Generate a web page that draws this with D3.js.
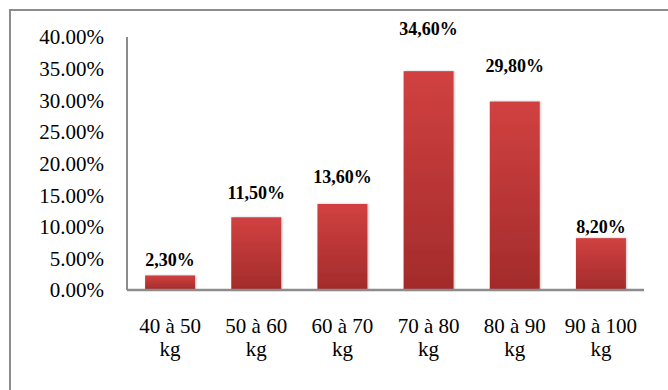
<!DOCTYPE html>
<html>
<head>
<meta charset="utf-8">
<script src="https://cdn.jsdelivr.net/npm/d3@7"></script>
<style>
  html, body { margin: 0; padding: 0; background: #fff; }
  svg { display: block; }
</style>
</head>
<body>
<svg id="chart" width="668" height="390"></svg>
<script>
// Weight classes and their share of the sample
const categories = ["40 à 50 kg", "50 à 60 kg", "60 à 70 kg", "70 à 80 kg", "80 à 90 kg", "90 à 100 kg"];
const shares = [2.3, 11.5, 13.6, 34.6, 29.8, 8.2];
const valueLabels = ["2,30%", "11,50%", "13,60%", "34,60%", "29,80%", "8,20%"];
const yTicks = [0, 5, 10, 15, 20, 25, 30, 35, 40];

// Distance (px) between each value label's baseline and the top of its bar
const labelLift = [9, 18, 21, 36, 30, 5];

const SERIF = '"Liberation Serif", "Times New Roman", serif';

const svg = d3.select("#chart");
const margin = { left: 127, right: 644, top: 37, bottom: 290 };

const x = d3.scaleBand()
  .domain(categories)
  .range([margin.left, margin.right])
  .paddingInner(0.42)
  .paddingOuter(0.21);

const y = d3.scaleLinear()
  .domain([0, 40])
  .range([margin.bottom, margin.top]);

// Outer frame of the chart area
svg.append("rect")
  .attr("x", 10).attr("y", 10)
  .attr("width", 700).attr("height", 420)
  .attr("fill", "none")
  .attr("stroke", "#8c8c8c")
  .attr("stroke-width", 2);

// Bar fill: lighter red at the top fading to a deeper red
const defs = svg.append("defs");
const grad = defs.append("linearGradient")
  .attr("id", "barFill")
  .attr("x1", 0).attr("y1", 0).attr("x2", 0).attr("y2", 1);
grad.append("stop").attr("offset", "0%").attr("stop-color", "#d14141");
grad.append("stop").attr("offset", "100%").attr("stop-color", "#a32b2b");

const shadow = defs.append("filter").attr("id", "barShadow")
  .attr("x", "-20%").attr("y", "-5%").attr("width", "140%").attr("height", "110%");
shadow.append("feGaussianBlur").attr("in", "SourceAlpha").attr("stdDeviation", 1.2).attr("result", "b");
shadow.append("feOffset").attr("in", "b").attr("dx", 1).attr("dy", 0).attr("result", "o");
shadow.append("feComponentTransfer").attr("in", "o").attr("result", "s")
  .append("feFuncA").attr("type", "linear").attr("slope", 0.25);
const merge = shadow.append("feMerge");
merge.append("feMergeNode").attr("in", "s");
merge.append("feMergeNode").attr("in", "SourceGraphic");

// Y axis: labels only, plus a plain vertical rule
const yAxis = d3.axisLeft(y)
  .tickValues(yTicks)
  .tickFormat(d => d.toFixed(2) + "%")
  .tickSize(0)
  .tickPadding(23);

const yG = svg.append("g")
  .attr("transform", `translate(${margin.left},0)`)
  .call(yAxis);
yG.select(".domain").remove();
yG.selectAll("text")
  .style("font-family", SERIF)
  .style("font-size", "21px")
  .attr("fill", "#000")
  .attr("dy", "0.33em");

svg.append("line")
  .attr("x1", margin.left).attr("x2", margin.left)
  .attr("y1", y(40)).attr("y2", y(0))
  .attr("stroke", "#8c8c8c").attr("stroke-width", 2);

// Bars
svg.append("g").selectAll("rect")
  .data(shares)
  .join("rect")
  .attr("x", (d, i) => x(categories[i]))
  .attr("y", d => y(d))
  .attr("width", x.bandwidth())
  .attr("height", d => y(0) - y(d))
  .attr("fill", "url(#barFill)")
  .attr("filter", "url(#barShadow)");

// Baseline
svg.append("line")
  .attr("x1", margin.left).attr("x2", margin.right)
  .attr("y1", y(0)).attr("y2", y(0))
  .attr("stroke", "#8c8c8c").attr("stroke-width", 2.5);

// Value labels
svg.append("g").selectAll("text")
  .data(shares)
  .join("text")
  .attr("x", (d, i) => x(categories[i]) + x.bandwidth() / 2)
  .attr("y", (d, i) => y(d) - labelLift[i])
  .attr("text-anchor", "middle")
  .style("font-family", SERIF)
  .style("font-weight", "bold")
  .style("font-size", "18px")
  .attr("fill", "#000")
  .text((d, i) => valueLabels[i]);

// Category labels on two lines
const xAxis = d3.axisBottom(x).tickSize(0).tickFormat("");
const xG = svg.append("g")
  .attr("transform", `translate(0,${y(0)})`)
  .call(xAxis);
xG.select(".domain").remove();

const catG = svg.append("g").selectAll("text")
  .data(categories)
  .join("text")
  .attr("x", d => x(d) + x.bandwidth() / 2)
  .attr("y", y(0) + 43)
  .attr("text-anchor", "middle")
  .style("font-family", SERIF)
  .style("font-size", "21px")
  .attr("fill", "#000");

catG.each(function(d) {
  const parts = d.split(" ");
  const unit = parts.pop();
  const t = d3.select(this);
  t.append("tspan").attr("x", x(d) + x.bandwidth() / 2).text(parts.join(" "));
  t.append("tspan").attr("x", x(d) + x.bandwidth() / 2).attr("dy", 23).text(unit);
});
</script>
</body>
</html>
